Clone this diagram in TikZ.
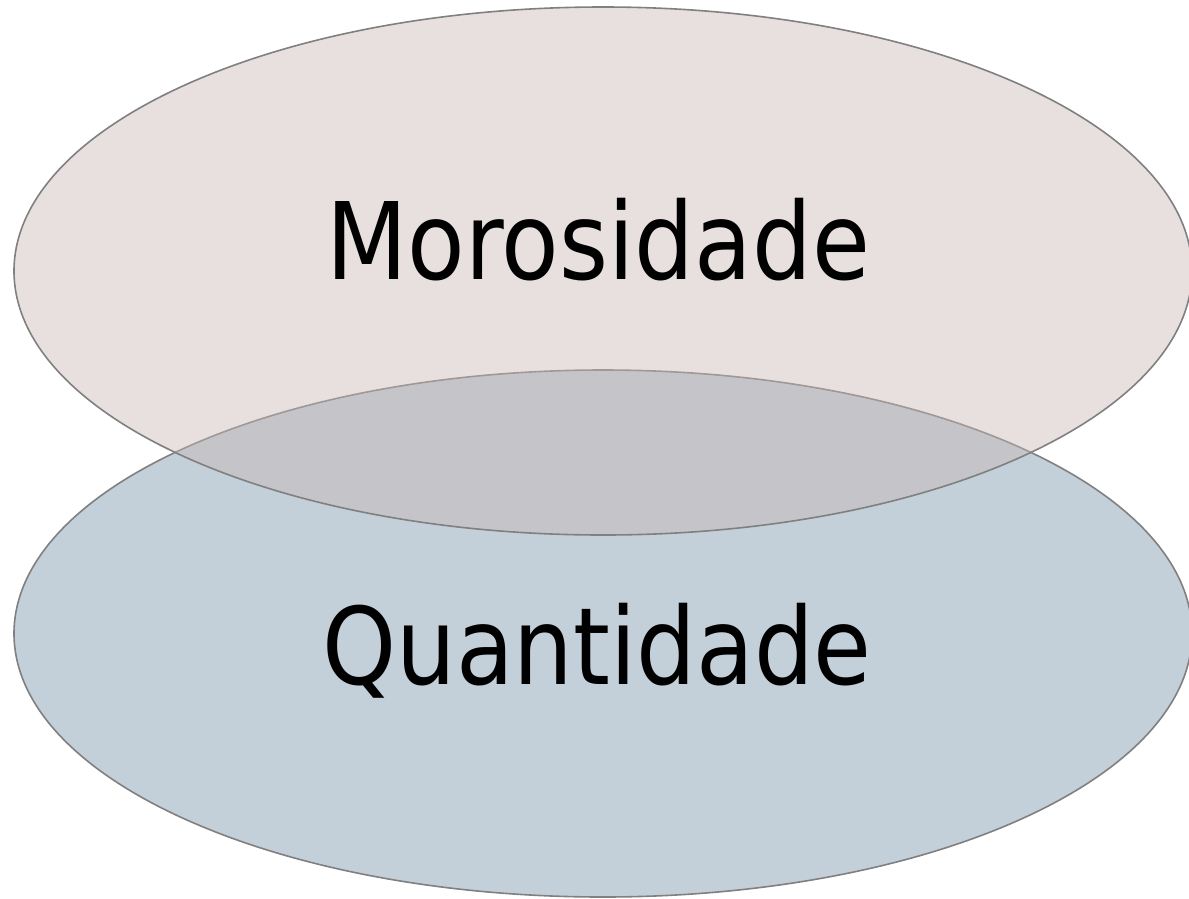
\documentclass[tikz,border=0pt]{standalone}
\usepackage{fontspec}
\setmainfont{DejaVu Sans}
\definecolor{topfill}{RGB}{200,184,180}
\definecolor{botfill}{RGB}{195,207,217}
\definecolor{edge}{RGB}{128,128,128}
\begin{document}
\begin{tikzpicture}[x=1pt,y=-1pt,
  blob/.style={draw=edge,line width=1.6pt},
  label/.style={inner sep=0pt,anchor=base,font=\fontsize{107}{115}\selectfont}]
\useasboundingbox (0,0) rectangle (1189,898);
\clip (0,0) rectangle (1189,898);
\path[blob,fill=botfill] (603,633.5) ellipse [x radius=589, y radius=263.5];
\path[blob,fill=topfill,fill opacity=0.43] (603,271) ellipse [x radius=589, y radius=264];
\node[label] (mor) at (598,279) {\scalebox{0.88}[1]{Morosidade}};
\node[label] (qua) at (597,684) {\scalebox{0.88}[1]{Quantidade}};
\end{tikzpicture}
\end{document}
